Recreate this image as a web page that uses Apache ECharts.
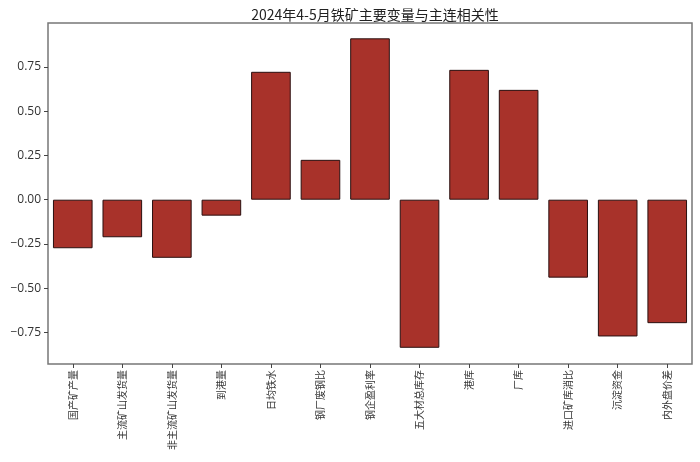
<!DOCTYPE html>
<html><head><meta charset="utf-8">
<script src="https://cdn.jsdelivr.net/npm/echarts@6/dist/echarts.min.js"></script>
<style>html,body{margin:0;padding:0;background:#fff}#c{width:700px;height:462px}</style>
</head><body><div id="c"></div>
<script>
const categories = ['国产矿产量','主流矿山发货量','非主流矿山发货量','到港量','日均铁水','钢厂废钢比','钢企盈利率','五大材总库存','港库','厂库','进口矿库消比','沉淀资金','内外盘价差'];
const values = [-0.274, -0.212, -0.328, -0.090, 0.722, 0.225, 0.911, -0.836, 0.733, 0.620, -0.440, -0.772, -0.697];
const yTicks = [-0.75, -0.5, -0.25, 0, 0.25, 0.5, 0.75];
const titleText = '2024年4-5月铁矿主要变量与主连相关性';

const chart = echarts.init(document.getElementById('c'));
chart.setOption({
  animation: false,
  title: { text: titleText, left: 370, top: 3, textAlign: 'center',
    textStyle: { fontSize: 14, fontWeight: 'normal', color: '#222', fontFamily: 'Noto Sans CJK SC' } },
  grid: { left: 48, right: 8, top: 23, bottom: 98, show: true, borderColor: '#777', borderWidth: 1.5, backgroundColor: '#fff' },
  xAxis: {
    type: 'category', data: categories,
    axisLine: { show: false, onZero: false },
    axisTick: { show: true, alignWithLabel: true, length: 4, lineStyle: { color: '#444' } },
    axisLabel: { rotate: 90, fontSize: 10, color: '#333', margin: 6, fontFamily: 'Noto Sans CJK SC' }
  },
  yAxis: {
    type: 'value', min: -0.9275, max: 0.9975,
    splitLine: { show: false },
    axisLine: { show: false },
    axisTick: { show: true, length: 4, customValues: yTicks, lineStyle: { color: '#444' } },
    axisLabel: { customValues: yTicks, fontSize: 12, color: '#333', margin: 7,
      formatter: v => v.toFixed(2).replace('-', '\u2212') , fontFamily: 'Open Sans'}
  },
  series: [{
    type: 'bar', data: values, barWidth: '80%',
    itemStyle: { color: '#a8322a', borderColor: '#2a1010', borderWidth: 1 }
  }]
});
</script></body></html>
